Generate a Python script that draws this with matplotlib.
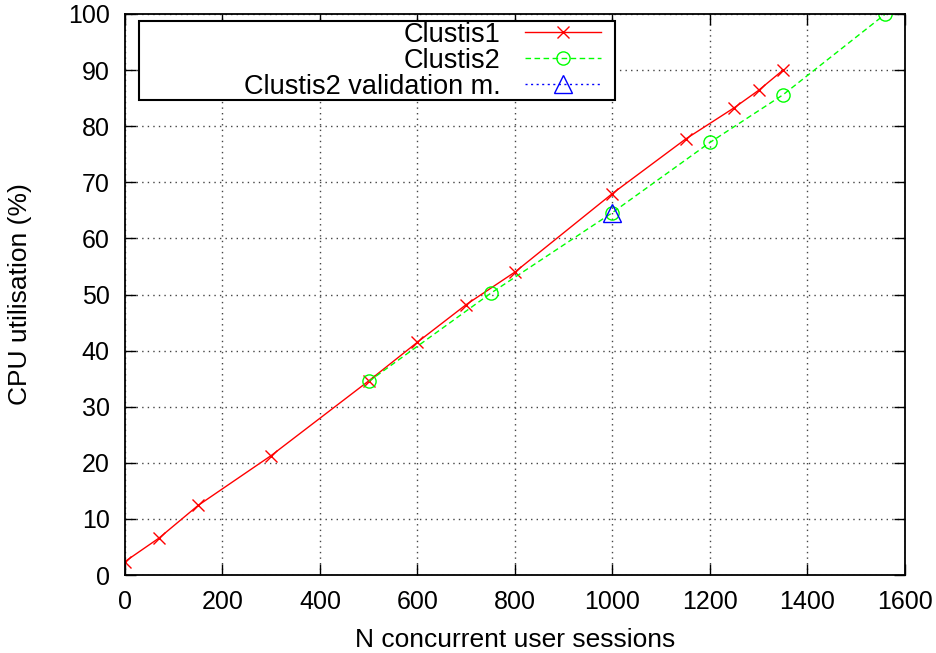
import matplotlib
matplotlib.use("Agg")
import matplotlib.pyplot as plt
from matplotlib.offsetbox import DrawingArea

plt.rcParams['font.family'] = ['Liberation Sans', 'DejaVu Sans']

# Clustis1 measurements
c1_sessions = [0, 70, 150, 300, 500, 600, 700, 800, 1000, 1150, 1250, 1300, 1350]
c1_cpu = [2.4, 6.6, 12.4, 21.3, 34.6, 41.5, 48.2, 54.0, 68.0, 77.7, 83.3, 86.4, 90.0]

# Clustis2 measurements
c2_sessions = [500, 750, 1000, 1200, 1350, 1560]
c2_cpu = [34.5, 50.2, 64.6, 77.1, 85.6, 100.0]

# Clustis2 validation measurement
v_sessions = [1000]
v_cpu = [64.5]

x_ticks = [0, 200, 400, 600, 800, 1000, 1200, 1400, 1600]
y_ticks = [0, 10, 20, 30, 40, 50, 60, 70, 80, 90, 100]

fs = 18

fig = plt.figure(figsize=(9.36, 6.53), dpi=100)
ax = fig.add_axes([0.1335, 0.1194, 0.8333, 0.8592])

ax.plot(c1_sessions, c1_cpu, color='#ff0000', lw=1.0, marker='x', ms=9, mew=1.0,
        label='Clustis1')
ax.plot(c2_sessions, c2_cpu, color='#00ff00', lw=1.0, ls=(0, (4, 2.5)), marker='o', ms=9.5,
        mfc='none', mew=1.0, label='Clustis2')
ax.plot(v_sessions, v_cpu, color='#0000ff', lw=1.0, ls=(0, (1.5, 2.5)), marker='^', ms=13,
        mfc='none', mew=1.0, label='Clustis2 validation m.')

ax.set_xlim(0, 1600)
ax.set_ylim(0, 100)
ax.set_xticks(x_ticks)
ax.set_yticks(y_ticks)
ax.tick_params(direction='in', length=8, width=1, top=True, right=True, labelsize=fs, pad=11)
ax.grid(True, color='#444444', ls=(0, (1, 3)), lw=1.0)
for s in ax.spines.values():
    s.set_linewidth(1.3)

ax.set_xlabel('N concurrent user sessions', fontsize=19, labelpad=10)
ax.set_ylabel('CPU utilisation (%)', fontsize=19, labelpad=26)

leg = ax.legend(loc='upper left', bbox_to_anchor=(0.018, 0.987), markerfirst=False,
                fancybox=False, edgecolor='black', framealpha=1, fontsize=19.5,
                handlelength=2.8, handletextpad=0.9, labelspacing=0.0,
                borderpad=0.02, borderaxespad=0, columnspacing=0)
leg.get_frame().set_linewidth(1.5)
# right-align the rows and leave the empty space on the left, gnuplot style
for col in leg._legend_handle_box.get_children():
    col.align = 'right'
leg._legend_handle_box._children.insert(0, DrawingArea(75, 1))
leg._legend_handle_box._children.append(DrawingArea(10, 1))

fig.savefig('out.png', dpi=100)
